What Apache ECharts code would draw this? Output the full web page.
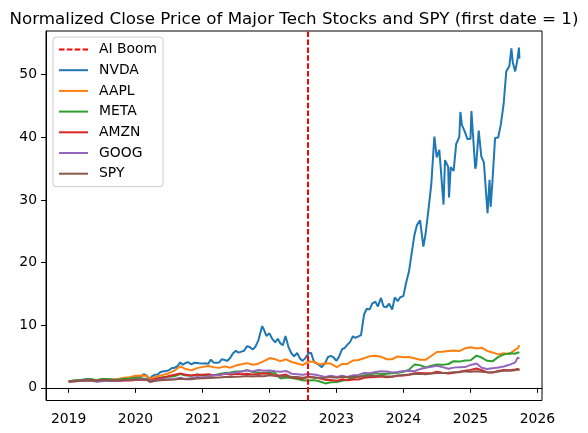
<!DOCTYPE html>
<html>
<head>
<meta charset="utf-8">
<script src="https://cdn.jsdelivr.net/npm/echarts@6/dist/echarts.min.js"></script>
<style>
  html, body { margin: 0; padding: 0; background: #fff; }
  #chart { width: 588px; height: 433px; }
</style>
</head>
<body>
<div id="chart"></div>
<script>
// monthly sample dates (plus the 2020 crash low and late Sept 2025)
const DATES = [
  '2019-01-02','2019-02-01','2019-03-01','2019-04-01','2019-05-01','2019-06-03','2019-07-01','2019-08-01','2019-09-03','2019-10-01','2019-11-01','2019-12-02',
  '2020-01-02','2020-02-03','2020-03-02','2020-03-20','2020-04-01','2020-05-01','2020-06-01','2020-07-01','2020-08-03','2020-09-01','2020-10-01','2020-11-02','2020-12-01',
  '2021-01-04','2021-02-01','2021-03-01','2021-04-01','2021-05-03','2021-06-01','2021-07-01','2021-08-02','2021-09-01','2021-10-01','2021-11-01','2021-12-01',
  '2022-01-03','2022-02-01','2022-03-01','2022-04-01','2022-05-02','2022-06-01','2022-07-01','2022-08-01','2022-09-01','2022-10-03','2022-11-01','2022-12-01',
  '2023-01-03','2023-02-01','2023-03-01','2023-04-03','2023-05-01','2023-06-01','2023-07-03','2023-08-01','2023-09-01','2023-10-02','2023-11-01','2023-12-01',
  '2024-01-02','2024-02-01','2024-03-01','2024-04-01','2024-05-01','2024-06-03','2024-07-01','2024-08-01','2024-09-03','2024-10-01','2024-11-01','2024-12-02',
  '2025-01-02','2025-02-03','2025-03-03','2025-04-01','2025-05-01','2025-06-02','2025-07-01','2025-08-01','2025-09-02','2025-09-15','2025-09-25'
];

const AAPL = [
  1.00,1.05,1.11,1.21,1.33,1.10,1.28,1.32,1.30,1.42,1.62,1.67,
  1.92,1.97,1.91,1.47,1.54,1.85,2.06,2.33,2.79,3.43,2.99,2.78,3.14,
  3.34,3.47,3.30,3.18,3.42,3.21,3.55,3.76,3.94,3.69,3.85,4.26,
  4.75,4.56,4.26,4.55,4.12,3.88,3.62,4.21,4.12,3.72,3.93,3.87,
  3.28,3.81,3.81,4.36,4.45,4.72,5.05,5.13,4.97,4.56,4.56,5.01,
  4.89,4.92,4.73,4.48,4.46,5.11,5.71,5.75,5.87,5.96,5.87,6.31,
  6.47,6.26,6.41,5.89,5.65,5.33,5.51,5.37,6.09,6.28,6.81
];
const META = [
  1.00,1.22,1.20,1.29,1.42,1.21,1.42,1.42,1.34,1.30,1.43,1.47,
  1.55,1.50,1.45,1.10,1.18,1.49,1.71,1.75,1.86,2.18,1.96,1.93,2.11,
  1.98,1.93,1.95,2.20,2.38,2.43,2.61,2.59,2.82,2.53,2.43,2.29,
  2.49,2.35,1.50,1.66,1.56,1.39,1.18,1.17,1.22,1.00,0.70,0.89,
  0.92,1.13,1.29,1.57,1.77,1.99,2.11,2.37,2.18,2.26,2.32,2.39,
  2.55,2.90,3.70,3.62,3.24,3.52,3.72,3.66,3.80,4.24,4.18,4.36,
  4.41,5.14,4.83,4.32,4.22,4.94,5.30,5.53,5.45,5.64,5.60
];
const AMZN = [
  1.00,1.06,1.08,1.17,1.25,1.09,1.25,1.21,1.16,1.13,1.16,1.16,
  1.23,1.30,1.27,1.16,1.24,1.49,1.61,1.87,2.08,2.27,2.08,1.95,2.10,
  2.07,2.18,2.00,2.02,2.25,2.10,2.24,2.16,2.26,2.14,2.19,2.31,
  2.21,1.96,1.96,2.11,1.62,1.59,1.42,1.76,1.66,1.51,1.26,1.24,
  1.11,1.37,1.20,1.33,1.33,1.60,1.69,1.71,1.79,1.68,1.78,1.91,
  1.95,2.07,2.32,2.35,2.33,2.32,2.56,2.39,2.29,2.41,2.57,2.74,
  2.86,3.09,2.81,2.50,2.45,2.69,2.86,2.79,2.93,3.01,2.84
];
const GOOG = [
  1.00,1.06,1.10,1.15,1.12,0.99,1.05,1.16,1.12,1.15,1.22,1.23,
  1.31,1.42,1.33,1.03,1.06,1.26,1.37,1.38,1.41,1.59,1.42,1.55,1.72,
  1.65,1.82,2.00,2.04,2.24,2.32,2.43,2.60,2.79,2.61,2.83,2.71,
  2.77,2.64,2.56,2.69,2.24,2.17,2.09,2.21,2.12,1.93,1.73,1.94,
  1.72,1.94,1.73,2.01,2.06,2.38,2.31,2.54,2.63,2.59,2.44,2.52,
  2.67,2.73,2.64,2.99,3.19,3.34,3.53,3.30,3.03,3.22,3.30,3.31,
  3.65,3.87,3.19,3.01,3.12,3.23,3.40,3.67,4.07,4.82,4.72
];
const SPY = [
  1.00,1.09,1.13,1.15,1.17,1.11,1.19,1.19,1.17,1.18,1.23,1.25,
  1.33,1.32,1.26,0.93,1.00,1.15,1.25,1.27,1.34,1.44,1.37,1.35,1.49,
  1.53,1.56,1.61,1.66,1.73,1.74,1.78,1.81,1.87,1.80,1.90,1.86,
  2.00,1.90,1.80,1.90,1.74,1.72,1.60,1.72,1.66,1.54,1.61,1.71,
  1.62,1.75,1.68,1.75,1.77,1.80,1.89,1.94,1.92,1.82,1.80,1.95,
  2.05,2.12,2.22,2.26,2.17,2.29,2.36,2.35,2.39,2.47,2.48,2.62,
  2.57,2.63,2.57,2.47,2.46,2.61,2.72,2.73,2.82,2.92,2.89
];

// NVDA is sampled twice a month plus its visible peaks and troughs
const NVDA_DATES = [
  '2019-01-02','2019-01-15','2019-02-01','2019-02-15','2019-03-01','2019-03-15','2019-04-01','2019-04-15','2019-05-01','2019-05-15','2019-06-03','2019-06-15',
  '2019-07-01','2019-07-15','2019-08-01','2019-08-15','2019-09-01','2019-09-15','2019-10-01','2019-10-15','2019-11-01','2019-11-15','2019-12-01','2019-12-15',
  '2020-01-01','2020-01-15','2020-02-01','2020-02-15','2020-03-01','2020-03-18','2020-04-01','2020-04-15','2020-05-01','2020-05-15','2020-06-01','2020-06-15',
  '2020-07-01','2020-07-15','2020-08-01','2020-08-15','2020-09-01','2020-09-15','2020-10-01','2020-10-15','2020-11-01','2020-11-15','2020-12-01','2020-12-15',
  '2021-01-01','2021-01-15','2021-02-01','2021-02-15','2021-03-01','2021-03-15','2021-04-01','2021-04-15','2021-05-01','2021-05-15','2021-06-01','2021-06-15',
  '2021-07-01','2021-07-15','2021-08-01','2021-08-15','2021-09-01','2021-09-15','2021-10-01','2021-10-15','2021-11-01','2021-11-22','2021-12-01','2021-12-15',
  '2022-01-01','2022-01-15','2022-02-01','2022-02-15','2022-03-01','2022-03-15','2022-03-29','2022-04-15','2022-05-01','2022-05-15','2022-06-01','2022-06-15',
  '2022-07-01','2022-07-15','2022-08-01','2022-08-15','2022-09-01','2022-09-15','2022-10-01','2022-10-13','2022-11-01','2022-11-15','2022-12-01','2022-12-15',
  '2023-01-01','2023-01-15','2023-02-01','2023-02-15','2023-03-01','2023-03-15','2023-04-01','2023-04-15','2023-05-01','2023-05-15','2023-06-01','2023-06-15',
  '2023-07-01','2023-07-15','2023-08-01','2023-08-15','2023-09-01','2023-09-15','2023-10-01','2023-10-15','2023-11-01','2023-11-15','2023-12-01','2023-12-15',
  '2024-01-01','2024-01-15','2024-02-01','2024-02-15','2024-03-01','2024-03-15','2024-04-01','2024-04-19','2024-05-01','2024-05-15','2024-06-01','2024-06-18',
  '2024-07-01','2024-07-15','2024-08-07','2024-08-15','2024-09-01','2024-09-06','2024-09-15','2024-10-01','2024-10-15','2024-11-01','2024-11-07','2024-11-15',
  '2024-12-01','2024-12-15','2025-01-01','2025-01-06','2025-01-15','2025-01-27','2025-02-01','2025-02-15','2025-03-01','2025-03-15','2025-04-04','2025-04-15',
  '2025-04-21','2025-05-01','2025-05-15','2025-06-01','2025-06-15','2025-07-01','2025-07-15','2025-08-01','2025-08-12','2025-08-20','2025-09-02','2025-09-15',
  '2025-09-22','2025-09-25'
];
const NVDA = [
  1.00,1.09,1.09,1.18,1.18,1.30,1.36,1.39,1.33,1.18,1.00,1.06,
  1.21,1.30,1.21,1.09,1.24,1.33,1.29,1.42,1.49,1.54,1.58,1.66,
  1.74,1.80,1.78,2.16,1.98,1.33,1.86,2.07,2.13,2.49,2.63,2.66,
  2.81,3.11,3.20,3.40,4.05,3.70,3.99,4.08,3.73,3.99,3.96,3.91,
  3.86,3.91,3.85,4.50,4.05,3.99,4.02,4.56,4.44,4.29,4.79,5.47,
  5.92,5.62,5.77,5.92,6.66,6.51,6.12,6.51,7.54,9.85,9.32,8.28,
  8.70,7.84,7.25,7.84,7.10,6.80,8.28,6.45,5.47,5.03,5.56,4.73,
  4.29,4.73,5.47,5.62,4.11,3.88,3.58,3.30,3.99,4.88,5.09,4.88,
  4.32,4.97,6.18,6.36,6.86,7.25,8.22,7.99,8.20,8.43,11.75,12.63,
  12.51,13.43,13.76,12.99,14.35,12.99,12.87,13.43,12.51,14.44,13.82,14.47,
  14.64,16.66,18.64,21.48,24.35,25.98,26.75,22.54,24.56,27.99,32.43,40.12,
  36.78,37.99,29.26,36.36,35.33,30.41,35.24,34.62,38.93,40.06,44.05,41.98,
  40.92,39.73,39.73,44.20,40.30,35.00,35.53,41.09,36.95,36.01,27.90,33.20,
  28.90,33.02,39.88,39.97,41.98,45.36,50.50,51.39,54.20,51.90,50.53,52.60,
  54.32,52.57
];

const AI_BOOM_DATE = '2022-07-28';
const Y_TICKS = [0, 10, 20, 30, 40, 50];
const YEAR_MS = 365 * 24 * 3600 * 1000;

const FONT = 'DejaVu Sans';

function pairs(dates, values) {
  return dates.map((d, i) => [d, values[i]]);
}

function lineSeries(name, color, data) {
  return {
    name: name,
    type: 'line',
    data: data,
    symbol: 'none',
    lineStyle: { color: color, width: 2 },
    itemStyle: { color: color },
    emphasis: { disabled: true }
  };
}

const chart = echarts.init(document.getElementById('chart'), null, { renderer: 'canvas' });

chart.setOption({
  animation: false,
  backgroundColor: '#fff',
  title: {
    text: 'Normalized Close Price of Major Tech Stocks and SPY (first date = 1)',
    left: 'center',
    top: 6,
    textStyle: { fontFamily: FONT, fontSize: 16.7, fontWeight: 'normal', color: '#000' }
  },
  legend: {
    orient: 'vertical',
    left: 53,
    top: 37,
    itemWidth: 29,
    itemHeight: 14,
    itemGap: 6.7,
    padding: [5.5, 6, 6, 5],
    backgroundColor: 'rgba(255,255,255,0.8)',
    borderColor: '#cccccc',
    borderWidth: 1,
    borderRadius: 3,
    itemStyle: { opacity: 0 },
    lineStyle: { width: 2 },
    textStyle: { fontFamily: FONT, fontSize: 13.9, color: '#000', lineHeight: 14, padding: [0, 0, 0, 6] },
    data: ['AI Boom', 'NVDA', 'AAPL', 'META', 'AMZN', 'GOOG', 'SPY']
  },
  grid: {
    left: 46,
    top: 31,
    width: 496,
    height: 369.5,
    show: true,
    borderColor: '#000',
    borderWidth: 1,
    outerBoundsMode: 'none'
  },
  xAxis: {
    type: 'time',
    min: +new Date('2018-08-31'),
    max: +new Date('2026-01-26'),
    splitNumber: 7,
    minInterval: YEAR_MS,
    axisLine: { show: true, lineStyle: { color: '#000', width: 1 } },
    axisTick: { show: true, inside: false, length: 5, lineStyle: { color: '#000', width: 1 } },
    axisLabel: {
      fontFamily: FONT, fontSize: 13.9, color: '#000', margin: 12,
      formatter: '{yyyy}'
    },
    splitLine: { show: false }
  },
  yAxis: {
    type: 'value',
    min: -2.03,
    max: 56.98,
    axisLine: { show: true, lineStyle: { color: '#000', width: 1 } },
    axisTick: { show: true, inside: false, length: 5, lineStyle: { color: '#000', width: 1 }, customValues: Y_TICKS },
    axisLabel: { fontFamily: FONT, fontSize: 13.9, color: '#000', margin: 9, customValues: Y_TICKS },
    splitLine: { show: false }
  },
  series: [
    {
      name: 'AI Boom',
      type: 'line',
      data: [],
      symbol: 'none',
      lineStyle: { color: '#ff0000', width: 2, type: [5.5, 2.4] },
      itemStyle: { color: '#ff0000' },
      markLine: {
        silent: true,
        symbol: 'none',
        label: { show: false },
        lineStyle: { color: '#ff0000', width: 2, type: [5.5, 2.4] },
        data: [{ xAxis: AI_BOOM_DATE }]
      }
    },
    lineSeries('NVDA', '#1f77b4', pairs(NVDA_DATES, NVDA)),
    lineSeries('AAPL', '#ff7f0e', pairs(DATES, AAPL)),
    lineSeries('META', '#2ca02c', pairs(DATES, META)),
    lineSeries('AMZN', '#d62728', pairs(DATES, AMZN)),
    lineSeries('GOOG', '#9467bd', pairs(DATES, GOOG)),
    lineSeries('SPY', '#8c564b', pairs(DATES, SPY))
  ]
});
</script>
</body>
</html>
